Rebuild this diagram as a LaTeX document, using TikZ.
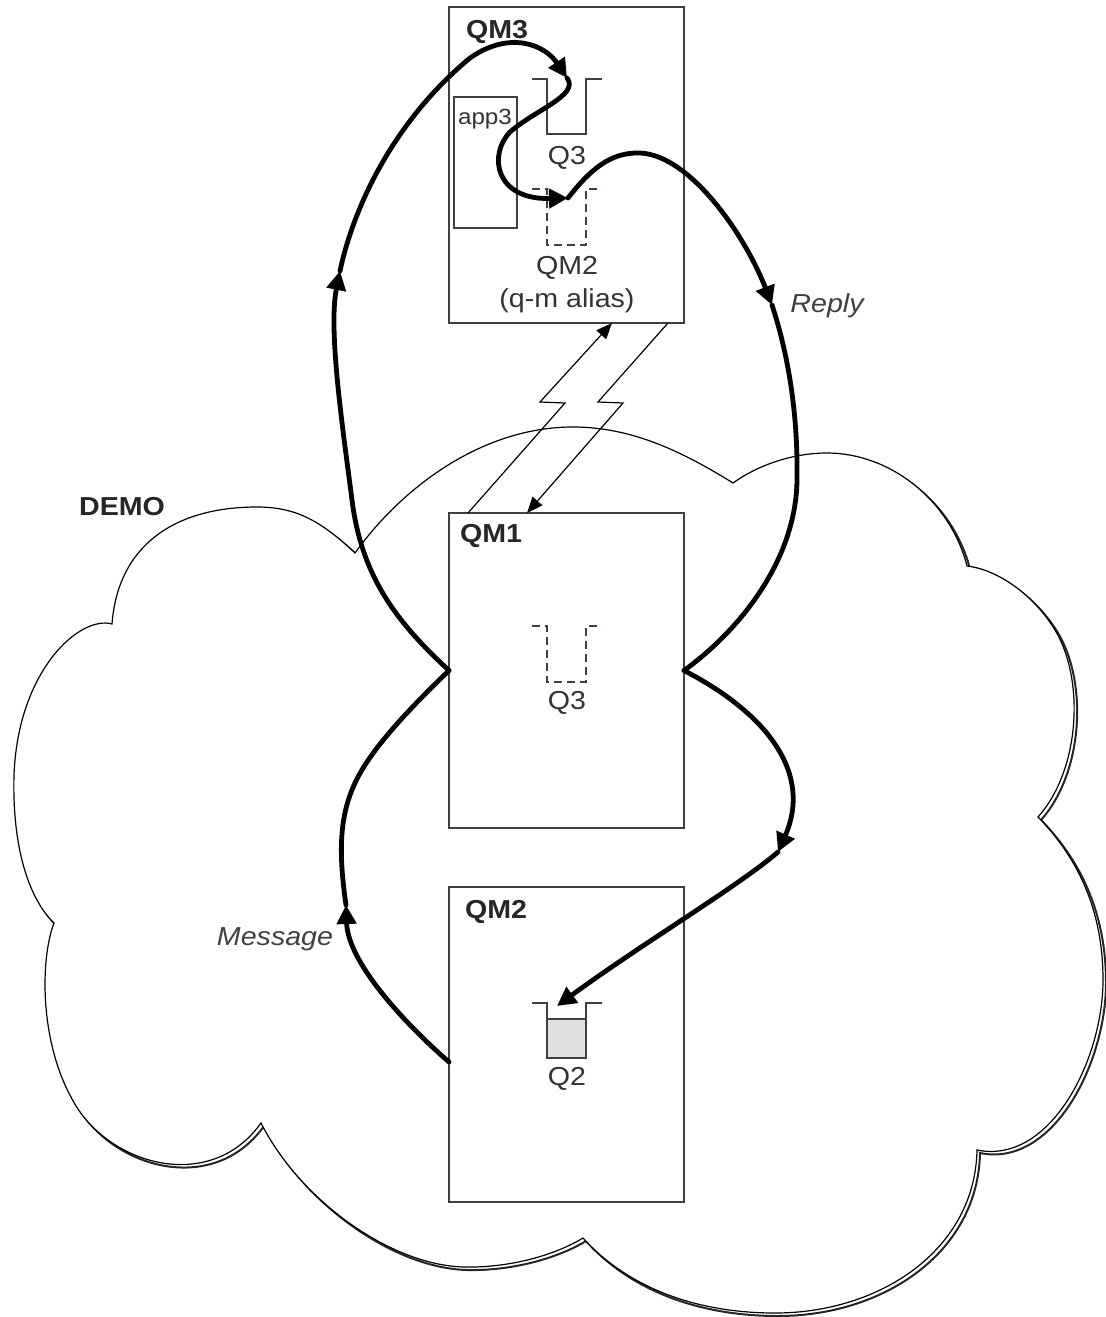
\documentclass[tikz,border=0pt]{standalone}
\usepackage{fontspec}
\setmainfont{Liberation Sans}[FakeStretch=1.1]
\usetikzlibrary{arrows.meta}
\newcommand{\cloudshape}{(355,553)
 .. controls (320,520) and (295,507) .. (257,507)
 .. controls (175,507) and (118,545) .. (112,624)
 .. controls (80,615) and (18,670) .. (14,775)
 .. controls (12,850) and (30,900) .. (54,923)
 .. controls (40,960) and (40,1040) .. (71,1097)
 .. controls (105,1165) and (210,1195) .. (261,1123)
 .. controls (300,1200) and (390,1265) .. (464,1267)
 .. controls (510,1268) and (555,1255) .. (583,1238)
 .. controls (630,1290) and (700,1313) .. (775,1313)
 .. controls (880,1313) and (975,1250) .. (977,1150)
 .. controls (1050,1165) and (1103,1060) .. (1103,980)
 .. controls (1103,900) and (1070,850) .. (1038,817)
 .. controls (1080,770) and (1085,680) .. (1055,630)
 .. controls (1035,597) and (1000,570) .. (967,566)
 .. controls (950,500) and (890,453) .. (827,453)
 .. controls (790,453) and (755,467) .. (733,483)
 .. controls (680,450) and (630,427) .. (573,427)
 .. controls (480,427) and (400,490) .. (355,553) -- cycle}
\begin{document}
\begin{tikzpicture}[x=0.5pt,y=-0.5pt,
  box/.style={draw=black!75, line width=0.85pt, fill=white, inner sep=0pt, outer sep=0pt},
  lbl/.style={inner sep=0pt, text=black!80, font=\fontsize{13}{15}\selectfont},
  blbl/.style={inner sep=0pt, text=black!85, font=\fontsize{13}{15}\selectfont\bfseries},
  ilbl/.style={inner sep=0pt, text=black!75, font=\fontsize{13}{15}\selectfont\itshape},
  slbl/.style={inner sep=0pt, text=black!80, font=\fontsize{11}{13}\selectfont},
  flow/.style={line width=2.4pt, line cap=round, -{Triangle[length=9.5pt,width=9.5pt]}},
  flowline/.style={line width=2.4pt, line cap=round},
  chan/.style={line width=0.6pt, line join=miter, -{Triangle[length=8pt,width=6.5pt]}},
  queue/.style={draw=black!75, line width=0.75pt},
  dq/.style={queue, dash pattern=on 4pt off 2.5pt}]
\useasboundingbox (0,0) rectangle (1106,1317);
% cloud with shadow
\begin{scope}[shift={(3,3)}]
  \draw[line width=1pt, black!85] \cloudshape;
\end{scope}
\draw[line width=0.6pt, fill=white] \cloudshape;
\node[blbl] (tdemo) at (122,507) {DEMO};
% boxes
\node[box, minimum width=117.5pt, minimum height=158pt] (qm3) at (566.5,165) {};
\node[box, minimum width=117.5pt, minimum height=157.5pt] (qm1) at (566.5,670.5) {};
\node[box, minimum width=117.5pt, minimum height=157.5pt] (qm2) at (566.5,1044.5) {};
\node[box, minimum width=31.5pt, minimum height=65.5pt] (app3) at (485.5,162.5) {};
% labels
\node[blbl] (tqm3) at (497,32) {QM3};
\node[blbl] (tqm1) at (491,536) {QM1};
\node[blbl] (tqm2) at (496,912) {QM2};
\node[slbl] (tapp3) at (485,119) {app3};
\node[lbl] (tq3a) at (567,158) {Q3};
\node[lbl] (talias1) at (567,268) {QM2};
\node[lbl] (talias2) at (567,301) {(q-m alias)};
\node[lbl] (tq3b) at (567,703) {Q3};
\node[lbl] (tq2) at (567,1079) {Q2};
\node[ilbl] (treply) at (827,306) {Reply};
\node[ilbl] (tmsg) at (275,939) {Message};
% queues
\draw[queue] (532,79) -- (547,79) -- (547,134) -- (586,134) -- (586,79) -- (602,79);
\draw[dq] (532,189) -- (547,189) -- (547,245) -- (586,245) -- (586,189) -- (602,189);
\draw[dq] (532,626) -- (547,626) -- (547,682) -- (586,682) -- (586,626) -- (602,626);
\fill[gray!25] (547,1019) rectangle (586,1058);
\draw[queue] (547,1019) -- (586,1019);
\draw[queue] (532,1003) -- (547,1003) -- (547,1058) -- (586,1058) -- (586,1003) -- (602,1003);
% channels
\coordinate (b1s) at (468,513);
\coordinate (b1e) at (612,323);
\coordinate (b2s) at (668,323);
\coordinate (b2e) at (527,513);
\draw[chan] (b1s) -- (565,403) -- (540,402) -- (b1e);
\draw[chan] (b2s) -- (598,402) -- (623,403) -- (b2e);
% flow points
\coordinate (msgstart) at (449,1062);
\coordinate (m1) at (346,905);
\coordinate (m2) at (340,271);
\coordinate (q3in) at (567,78);
\coordinate (aliasin) at (568,198);
\coordinate (r1) at (772,305);
\coordinate (r2) at (778,852);
\coordinate (q2in) at (557,1006);
% message
\draw[flow] (msgstart) .. controls (412,1030) and (348,965) .. (m1);
\draw[flowline] (m1) .. controls (338,850) and (340,815) .. (355,783)
   .. controls (370,750) and (410,708) .. (qm1.west);
\draw[flow] (qm1.west) .. controls (400,625) and (362,580) .. (352,500)
   .. controls (343,430) and (328,330) .. (m2);
\draw[flow] (m2) .. controls (354,205) and (395,120) .. (470,58)
   .. controls (510,30) and (545,45) .. (q3in);
% app3 transfer
\draw[flow] (q3in) .. controls (580,95) and (535,110) .. (510,132)
   .. controls (488,155) and (495,200) .. (aliasin);
% reply
\draw[flow] (aliasin) .. controls (590,170) and (610,152) .. (640,153)
   .. controls (690,155) and (745,235) .. (r1);
\draw[flowline] (r1) .. controls (790,360) and (798,420) .. (797,480)
   .. controls (796,560) and (740,630) .. (qm1.east);
\draw[flow] (qm1.east) .. controls (770,715) and (812,775) .. (r2);
\draw[flow] (r2) .. controls (740,885) and (640,945) .. (q2in);
\end{tikzpicture}
\end{document}
